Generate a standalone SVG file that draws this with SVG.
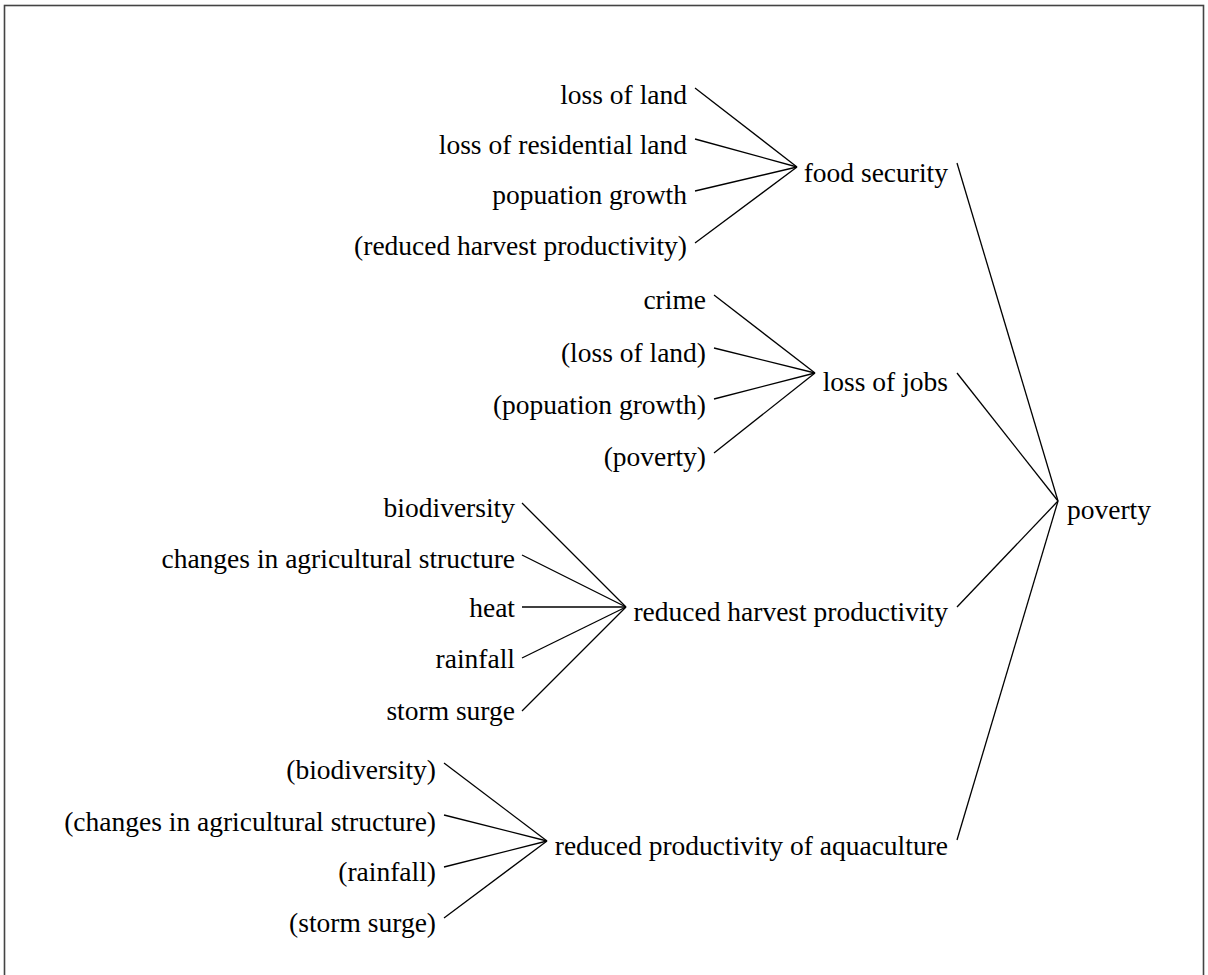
<svg xmlns="http://www.w3.org/2000/svg" width="1208" height="975" viewBox="0 0 1208 975">
  <style>
    text { font-family: "Liberation Serif", "Times New Roman", Times, serif; font-size: 27.5px; fill: #000; }
    .r { text-anchor: end; }
    .l { text-anchor: start; }
    #edges line { stroke: #000; stroke-width: 1.3; }
  </style>
  <rect x="0" y="0" width="1208" height="975" fill="#fff"/>
  <!-- frame -->
  <rect x="4.5" y="5.5" width="1199" height="1000" fill="none" stroke="#444" stroke-width="1.6"/>

  <g id="edges">
    <!-- into food security -->
    <line x1="695" y1="88" x2="797" y2="167"/>
    <line x1="695" y1="139" x2="797" y2="167"/>
    <line x1="695" y1="191" x2="797" y2="167"/>
    <line x1="695" y1="243" x2="797" y2="167"/>
    <!-- into loss of jobs -->
    <line x1="714" y1="295" x2="815" y2="373"/>
    <line x1="714" y1="348" x2="815" y2="373"/>
    <line x1="714" y1="399" x2="815" y2="373"/>
    <line x1="714" y1="453" x2="815" y2="373"/>
    <!-- into reduced harvest productivity -->
    <line x1="522" y1="503" x2="626" y2="607"/>
    <line x1="522" y1="555" x2="626" y2="607"/>
    <line x1="522" y1="607" x2="626" y2="607"/>
    <line x1="522" y1="658" x2="626" y2="607"/>
    <line x1="522" y1="711" x2="626" y2="607"/>
    <!-- into reduced productivity of aquaculture -->
    <line x1="444" y1="763" x2="547" y2="841"/>
    <line x1="444" y1="815" x2="547" y2="841"/>
    <line x1="444" y1="867" x2="547" y2="841"/>
    <line x1="444" y1="918" x2="547" y2="841"/>
    <!-- into poverty -->
    <line x1="957" y1="163" x2="1058" y2="501"/>
    <line x1="957" y1="373" x2="1058" y2="501"/>
    <line x1="957" y1="607" x2="1058" y2="501"/>
    <line x1="957" y1="840" x2="1058" y2="501"/>
  </g>

  <g id="n-loss-of-land"><text class="r" x="687" y="104">loss of land</text></g>
  <g id="n-loss-of-residential-land"><text class="r" x="687" y="154">loss of residential land</text></g>
  <g id="n-popuation-growth"><text class="r" x="687" y="204">popuation growth</text></g>
  <g id="n-reduced-harvest-ref"><text class="r" x="687" y="255">(reduced harvest productivity)</text></g>
  <g id="n-food-security"><text class="r" x="948" y="182">food security</text></g>

  <g id="n-crime"><text class="r" x="706" y="309">crime</text></g>
  <g id="n-loss-of-land-ref"><text class="r" x="706" y="362">(loss of land)</text></g>
  <g id="n-popuation-growth-ref"><text class="r" x="706" y="414">(popuation growth)</text></g>
  <g id="n-poverty-ref"><text class="r" x="706" y="466">(poverty)</text></g>
  <g id="n-loss-of-jobs"><text class="r" x="948" y="391">loss of jobs</text></g>

  <g id="n-biodiversity"><text class="r" x="515" y="517">biodiversity</text></g>
  <g id="n-changes"><text class="r" x="515" y="568">changes in agricultural structure</text></g>
  <g id="n-heat"><text class="r" x="515" y="617">heat</text></g>
  <g id="n-rainfall"><text class="r" x="515" y="668">rainfall</text></g>
  <g id="n-storm-surge"><text class="r" x="515" y="720">storm surge</text></g>
  <g id="n-reduced-harvest"><text class="r" x="948" y="621">reduced harvest productivity</text></g>

  <g id="n-biodiversity-ref"><text class="r" x="436" y="779">(biodiversity)</text></g>
  <g id="n-changes-ref"><text class="r" x="436" y="831">(changes in agricultural structure)</text></g>
  <g id="n-rainfall-ref"><text class="r" x="436" y="881">(rainfall)</text></g>
  <g id="n-storm-surge-ref"><text class="r" x="436" y="932">(storm surge)</text></g>
  <g id="n-aquaculture"><text class="r" x="948" y="855">reduced productivity of aquaculture</text></g>

  <g id="n-poverty"><text class="l" x="1067" y="519">poverty</text></g>
</svg>
